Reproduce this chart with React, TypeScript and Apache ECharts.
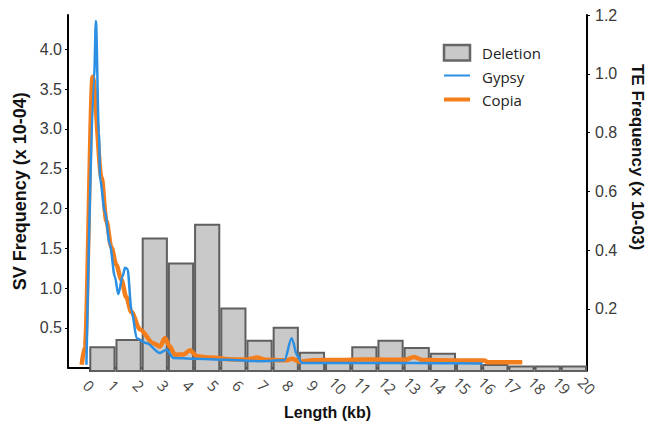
import React, { useEffect, useRef } from "react";
import * as echarts from "echarts";

// Histogram bins (SV deletions), left axis, x 10^-4
const binLabels = ["b0","b1","b2","b3","b4","b5","b6","b7","b8","b9","b10","b11","b12","b13","b14","b15","b16","b17","b18"];
const deletionValues = [0.32, 0.41, 1.67, 1.36, 1.84, 0.80, 0.40, 0.56, 0.25, 0.17, 0.32, 0.40, 0.31, 0.24, 0.16, 0.10, 0.08, 0.08, 0.08];

// Gypsy TE frequency (right axis, x 10^-3)
const gypsyKb = [-0.1, 0.21, 0.28, 0.40, 0.45, 0.64, 0.84, 1.04, 1.18, 1.35, 1.45, 1.55, 1.71, 1.92, 2.32, 2.85, 3.12, 3.39, 4.2, 5.5, 6.87, 7.85, 8.14, 8.37, 8.55, 10, 12, 14, 15.8];
const gypsyVal = [0.01, 0.99, 1.18, 0.80, 0.64, 0.53, 0.42, 0.31, 0.25, 0.31, 0.34, 0.336, 0.196, 0.10, 0.083, 0.05, 0.061, 0.033, 0.03, 0.027, 0.022, 0.025, 0.10, 0.04, 0.016, 0.016, 0.016, 0.015, 0.014];

// Copia TE frequency (right axis, x 10^-3)
const copiaKb = [-0.29, -0.16, 0.15, 0.51, 0.7, 0.9, 1.1, 1.3, 1.5, 1.7, 2.05, 2.58, 2.85, 3.05, 3.25, 3.45, 3.8, 4.06, 4.33, 4.87, 5.8, 6.4, 6.73, 7.1, 7.9, 8.17, 8.45, 9, 10, 11, 12, 12.7, 13.05, 13.4, 14, 15, 15.9, 16.0, 17.4];
const copiaVal = [0.01, 0.07, 0.99, 0.645, 0.5, 0.41, 0.35, 0.3, 0.24, 0.19, 0.13, 0.083, 0.072, 0.10, 0.072, 0.044, 0.045, 0.059, 0.039, 0.034, 0.028, 0.028, 0.034, 0.027, 0.025, 0.03, 0.02, 0.025, 0.026, 0.028, 0.027, 0.027, 0.036, 0.026, 0.025, 0.024, 0.024, 0.018, 0.018];

// Tick labels
const kbTicks = [0, 1, 2, 3, 4, 5, 6, 7, 8, 9, 10, 11, 12, 13, 14, 15, 16, 17, 18, 19, 20];
const svTicks = [0.5, 1.0, 1.5, 2.0, 2.5, 3.0, 3.5, 4.0];
const teTicks = [0.2, 0.4, 0.6, 0.8, 1.0, 1.2];

const BLUE = "#2b8fe3";
const ORANGE = "#f47d1c";

export default function App() {
  const ref = useRef<HTMLDivElement>(null);
  useEffect(() => {
    if (!ref.current) return;
    const chart = echarts.init(ref.current, null, { renderer: "svg" });
    const labelFont = { fontFamily: "Liberation Sans, Arial, sans-serif", fontSize: 16, color: "#3a3a3a" };
    chart.setOption({
      animation: false,
      backgroundColor: "#ffffff",
      grid: [
        { left: 68, right: 72, top: 15, bottom: 53 },
        { left: 89.3, right: 72, top: 15, bottom: 53 },
      ],
      xAxis: [
        {
          type: "value",
          gridIndex: 0,
          min: -0.84,
          max: 20,
          name: "Length (kb)",
          nameLocation: "middle",
          nameGap: 30,
          nameTextStyle: { fontFamily: "Liberation Sans, Arial, sans-serif", fontSize: 16, fontWeight: "bold", color: "#111" },
          axisLine: { show: true, onZero: false, lineStyle: { color: "#000", width: 2 } },
          axisTick: { show: true, customValues: kbTicks, length: 4, lineStyle: { color: "#000", width: 1 } },
          axisLabel: {
            customValues: kbTicks,
            rotate: -45,
            align: "center",
            verticalAlign: "middle",
            margin: 18,
            fontFamily: "Open Sans, sans-serif",
            fontSize: 15,
            color: "#444",
          },
          splitLine: { show: false },
        },
        {
          type: "category",
          gridIndex: 1,
          data: binLabels,
          show: false,
        },
      ],
      yAxis: [
        {
          type: "value",
          gridIndex: 0,
          min: 0,
          max: 4.43,
          position: "left",
          name: "SV Frequency (x 10-04)",
          nameLocation: "middle",
          nameGap: 36,
          nameTextStyle: { fontFamily: "Liberation Sans, Arial, sans-serif", fontSize: 18, fontWeight: "bold", color: "#111" },
          axisLine: { show: true, onZero: false, lineStyle: { color: "#000", width: 2 } },
          axisTick: { show: true, customValues: svTicks, length: 3, lineStyle: { color: "#000" } },
          axisLabel: { customValues: svTicks, margin: 6, formatter: (v: number) => v.toFixed(1), ...labelFont },
          splitLine: { show: false },
        },
        {
          type: "value",
          gridIndex: 0,
          min: 0,
          max: 1.2,
          interval: 0.2,
          position: "right",
          axisLine: { show: true, onZero: false, lineStyle: { color: "#000", width: 2 } },
          axisTick: { show: true, customValues: teTicks, length: 3, lineStyle: { color: "#000" } },
          axisLabel: { customValues: teTicks, margin: 8, formatter: (v: number) => v.toFixed(1), ...labelFont },
          splitLine: { show: false },
        },
        {
          type: "value",
          gridIndex: 1,
          min: 0,
          max: 4.43,
          show: false,
        },
      ],
      series: [
        {
          name: "Deletion",
          type: "bar",
          xAxisIndex: 1,
          yAxisIndex: 2,
          data: deletionValues,
          barCategoryGap: "0%",
          itemStyle: { color: "#c9c9c9", borderColor: "#5f5f5f", borderWidth: 2 },
          z: 1,
        },
        {
          name: "Copia",
          type: "line",
          xAxisIndex: 0,
          yAxisIndex: 1,
          data: copiaKb.map((x, i) => [x, copiaVal[i]]),
          showSymbol: false,
          smooth: 0.3,
          smoothMonotone: "x",
          lineStyle: { color: ORANGE, width: 4.5 },
          z: 3,
        },
        {
          name: "Gypsy",
          type: "line",
          xAxisIndex: 0,
          yAxisIndex: 1,
          data: gypsyKb.map((x, i) => [x, gypsyVal[i]]),
          showSymbol: false,
          smooth: 0.3,
          smoothMonotone: "x",
          lineStyle: { color: BLUE, width: 2.5 },
          z: 4,
        },
      ],
      graphic: [
        {
          type: "text",
          x: 637,
          y: 157,
          rotation: -Math.PI / 2,
          style: {
            text: "TE Frequency (x 10-03)",
            textAlign: "center",
            textVerticalAlign: "middle",
            fontFamily: "Liberation Sans, Arial, sans-serif",
            fontSize: 17,
            fontWeight: "bold",
            fill: "#111",
          },
        },
        {
          type: "rect",
          shape: { x: 444, y: 45, width: 26, height: 15.5 },
          style: { fill: "#c9c9c9", stroke: "#666", lineWidth: 2.5 },
        },
        {
          type: "line",
          shape: { x1: 444, y1: 75.5, x2: 470, y2: 75.5 },
          style: { stroke: BLUE, lineWidth: 2 },
        },
        {
          type: "line",
          shape: { x1: 444, y1: 99.5, x2: 470, y2: 99.5 },
          style: { stroke: ORANGE, lineWidth: 4 },
        },
        {
          type: "text",
          x: 482,
          y: 53,
          style: { text: "Deletion", textVerticalAlign: "middle", fontFamily: "Open Sans, sans-serif", fontSize: 15, fill: "#222" },
        },
        {
          type: "text",
          x: 482,
          y: 76.5,
          style: { text: "Gypsy", textVerticalAlign: "middle", fontFamily: "Open Sans, sans-serif", fontSize: 15, fill: "#222" },
        },
        {
          type: "text",
          x: 482,
          y: 99.5,
          style: { text: "Copia", textVerticalAlign: "middle", fontFamily: "Open Sans, sans-serif", fontSize: 15, fill: "#222" },
        },
      ],
    });
    return () => chart.dispose();
  }, []);
  return <div ref={ref} style={{ width: 659, height: 425, position: "absolute", left: 0, top: 0 }} />;
}
